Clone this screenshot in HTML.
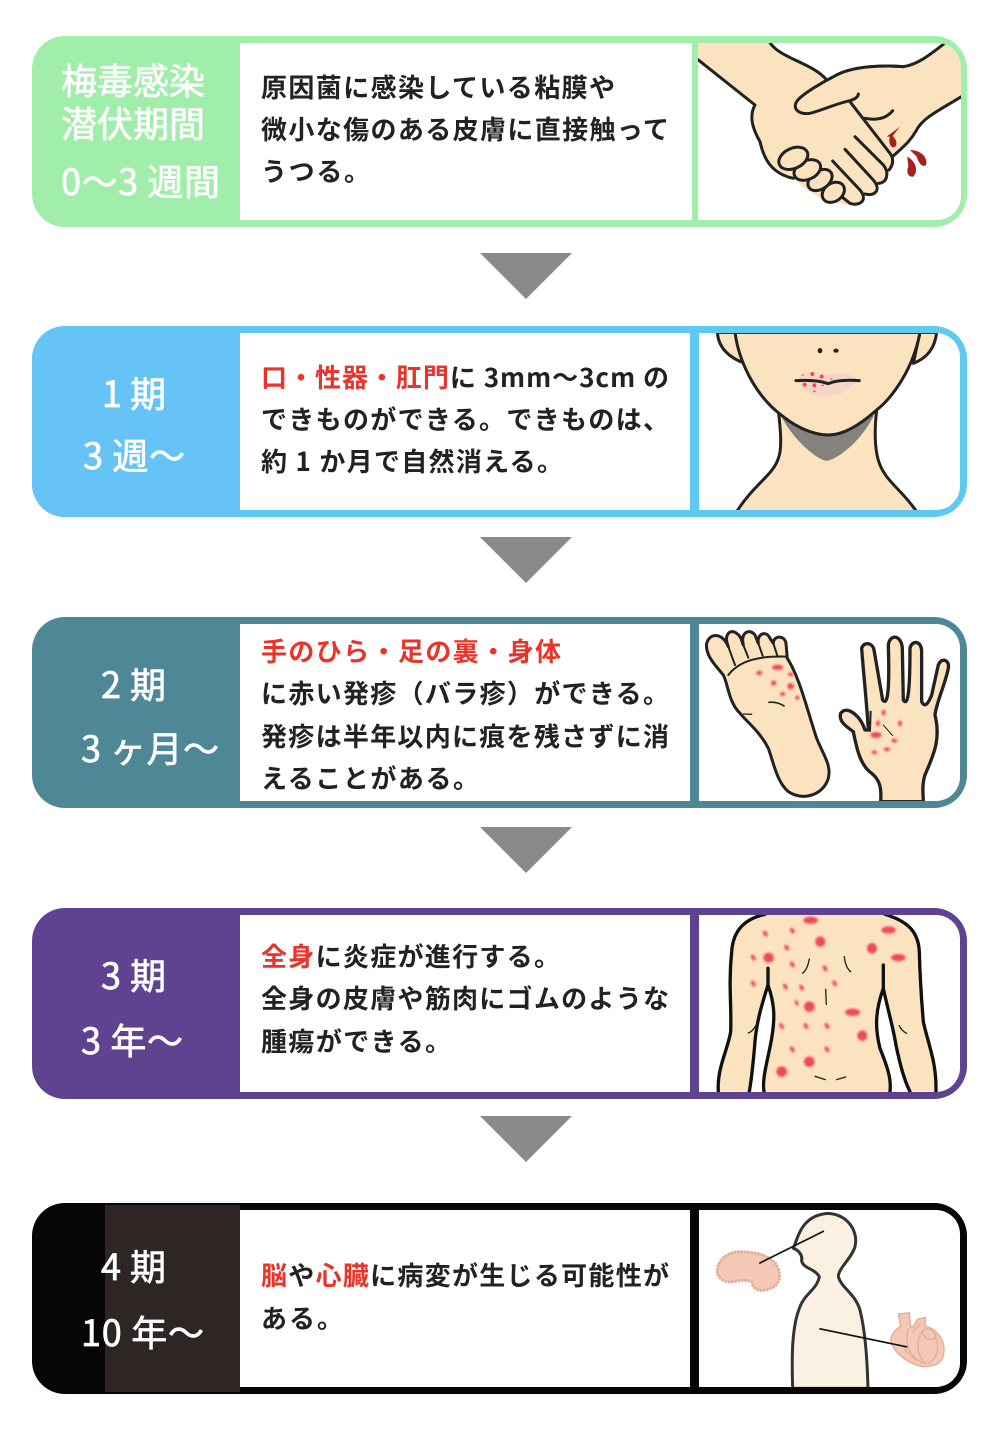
<!DOCTYPE html>
<html lang="ja"><head><meta charset="utf-8">
<style>
html,body{margin:0;padding:0;background:#fff;width:1000px;height:1436px;overflow:hidden}
svg{display:block}
text{font-family:"Noto Sans CJK JP","Liberation Sans",sans-serif}
.b{font-size:26px;font-weight:700;fill:#222}
.r{fill:#e8342a}
.h{font-size:36px;font-weight:400;fill:#fff;stroke:#fff;stroke-width:.7px}
.sk{fill:#fbe3c0;stroke:#222;stroke-width:9;stroke-linejoin:round;stroke-linecap:round}
.l{fill:none;stroke:#222;stroke-width:9;stroke-linecap:round;stroke-linejoin:round}
.nf{fill:#fbe3c0;stroke:none}
</style></head><body>
<svg xmlns="http://www.w3.org/2000/svg" width="1000" height="1436" viewBox="0 0 1000 1436">
<defs>
<filter id="bl" x="-50%" y="-50%" width="200%" height="200%"><feGaussianBlur stdDeviation="3.2"/></filter>
<clipPath id="c1"><path d="M698,43H937a24,24 0 0 1 24,24V196a24,24 0 0 1 -24,24H698Z"/></clipPath>
<clipPath id="c2"><path d="M699,333H936a24,24 0 0 1 24,24V486a24,24 0 0 1 -24,24H699Z"/></clipPath>
<clipPath id="c3"><path d="M699,624H936a24,24 0 0 1 24,24V777a24,24 0 0 1 -24,24H699Z"/></clipPath>
<clipPath id="c4"><path d="M699,915H936a24,24 0 0 1 24,24V1068a24,24 0 0 1 -24,24H699Z"/></clipPath>
<clipPath id="c5"><path d="M699,1210H936a24,24 0 0 1 24,24V1363a24,24 0 0 1 -24,24H699Z"/></clipPath>
</defs>
<rect width="1000" height="1436" fill="#fff"/>

<!-- arrows -->
<g fill="#8a8a8a">
<polygon points="480,253 572,253 526,299"/>
<polygon points="480,537 572,537 526,583"/>
<polygon points="480,827 572,827 526,873"/>
<polygon points="480,1116 572,1116 526,1162"/>
</g>

<!-- row 1 -->
<rect x="32" y="36" width="935" height="191" rx="33" fill="#a0eeaa"/>
<rect x="240" y="43" width="452" height="177" fill="#fff"/>
<path d="M698,43H937a24,24 0 0 1 24,24V196a24,24 0 0 1 -24,24H698Z" fill="#fff"/>
<!-- row 2 -->
<rect x="32" y="326" width="935" height="191" rx="33" fill="#5fc9f0"/>
<path d="M65,326H240V517H65A33,33 0 0 1 32,484V359A33,33 0 0 1 65,326Z" fill="#66c3f6"/>
<rect x="240" y="333" width="450" height="177" fill="#fff"/>
<path d="M699,333H936a24,24 0 0 1 24,24V486a24,24 0 0 1 -24,24H699Z" fill="#fff"/>
<!-- row 3 -->
<rect x="32" y="617" width="935" height="191" rx="33" fill="#4e8796"/>
<rect x="240" y="624" width="450" height="177" fill="#fff"/>
<path d="M699,624H936a24,24 0 0 1 24,24V777a24,24 0 0 1 -24,24H699Z" fill="#fff"/>
<!-- row 4 -->
<rect x="32" y="908" width="935" height="191" rx="33" fill="#5f4391"/>
<rect x="240" y="915" width="450" height="177" fill="#fff"/>
<path d="M699,915H936a24,24 0 0 1 24,24V1068a24,24 0 0 1 -24,24H699Z" fill="#fff"/>
<!-- row 5 -->
<rect x="32" y="1203" width="935" height="191" rx="33" fill="#070505"/>
<rect x="105" y="1205" width="135" height="187" fill="#2e2525"/>
<rect x="240" y="1210" width="450" height="177" fill="#fff"/>
<path d="M699,1210H936a24,24 0 0 1 24,24V1363a24,24 0 0 1 -24,24H699Z" fill="#fff"/>

<!-- heading text -->
<text class="h" x="61" y="94" textLength="144">梅毒感染</text>
<text class="h" x="61" y="137" textLength="144">潜伏期間</text>
<text class="h" x="61" y="195" textLength="159">0～3 週間</text>
<text class="h" x="102" y="407" textLength="64">1 期</text>
<text class="h" x="83" y="469" textLength="102">3 週～</text>
<text class="h" x="101" y="698" textLength="65">2 期</text>
<text class="h" x="81" y="762" textLength="138">3 ヶ月～</text>
<text class="h" x="101" y="989" textLength="65">3 期</text>
<text class="h" x="81" y="1054" textLength="102">3 年～</text>
<text class="h" x="101" y="1280" textLength="65">4 期</text>
<text class="h" x="81" y="1346" textLength="123">10 年～</text>

<!-- body text -->
<text class="b" x="261" y="97" textLength="354">原因菌に感染している粘膜や</text>
<text class="b" x="261" y="139" textLength="408">微小な傷のある皮膚に直接触って</text>
<text class="b" x="261" y="181" textLength="109">うつる。</text>

<text class="b" x="261" y="387" textLength="408"><tspan class="r">口・性器・肛門</tspan>に 3mm～3cm の</text>
<text class="b" x="261" y="429" textLength="408">できものができる。できものは、</text>
<text class="b" x="261" y="471" textLength="302">約 1 か月で自然消える。</text>

<text class="b r" x="261" y="661" textLength="300">手のひら・足の裏・身体</text>
<text class="b" x="261" y="703" textLength="408">に赤い発疹（バラ疹）ができる。</text>
<text class="b" x="261" y="746" textLength="408">発疹は半年以内に痕を残さずに消</text>
<text class="b" x="261" y="788" textLength="218">えることがある。</text>

<text class="b" x="261" y="966" textLength="299"><tspan class="r">全身</tspan>に炎症が進行する。</text>
<text class="b" x="261" y="1008" textLength="408">全身の皮膚や筋肉にゴムのような</text>
<text class="b" x="261" y="1051" textLength="190">腫瘍ができる。</text>

<text class="b" x="261" y="1285" textLength="408"><tspan class="r">脳</tspan>や<tspan class="r">心臓</tspan>に病変が生じる可能性が</text>
<text class="b" x="261" y="1328" textLength="82">ある。</text>

<!-- illustration 1: handshake -->
<g clip-path="url(#c1)"><g transform="translate(690,30) scale(.3333)">
<path class="sk" d="M240,30 C270,85 370,100 410,150 L500,300 L600,420 L25,90 L25,30Z" style="stroke:none"/>
<path class="sk" d="M770,35 C720,75 680,105 640,110 C580,105 490,108 440,135 L320,215 L480,212 L610,378 C640,350 660,335 680,300 C700,260 760,235 830,190 L830,30Z" style="stroke:none"/>
<path class="l" d="M770,35 C720,75 680,105 640,110 C580,105 490,108 440,135"/>
<path class="l" d="M830,190 C760,235 700,260 680,300 C660,335 640,350 610,378"/>
<path class="sk" d="M0,70 L195,225 C175,260 190,300 210,335 C220,380 240,430 310,445 L350,480 L400,510 L470,525 C510,530 525,510 525,495 C555,500 565,480 565,460 C590,460 600,435 595,420 C610,400 610,385 600,370 L480,212 L380,240 L320,215 L410,150 C370,100 270,85 240,30 L0,30Z" style="stroke:none"/>
<path class="l" d="M0,70 L195,225 C175,260 190,300 210,335 C220,380 240,430 310,445"/>
<path class="l" d="M240,38 C270,85 370,100 410,150"/>
<path class="sk" d="M410,148 C440,130 490,108 540,108 L580,108 L600,240 C580,270 540,270 520,265 L480,212 C440,220 400,240 360,250 C325,255 305,235 322,212Z" style="stroke:none"/>
<path class="l" d="M640,110 C580,105 490,108 440,135 C400,155 340,190 322,212 C305,235 325,255 360,250 C400,240 440,220 480,212 C495,208 505,200 505,192"/>
<path class="l" d="M480,215 L600,370 C612,385 610,405 597,420"/>
<path class="l" d="M525,265 C560,272 590,265 608,242"/>
<path class="l" d="M495,320 L580,405 C600,430 590,460 565,460"/>
<path class="l" d="M465,358 L550,450 C575,480 555,500 525,492"/>
<path class="l" d="M428,393 L510,480 C535,510 510,530 480,520 L455,500"/>
<ellipse class="sk" cx="430" cy="487" rx="36" ry="27" transform="rotate(-35 430 487)"/>
<ellipse class="sk" cx="390" cy="450" rx="40" ry="27" transform="rotate(-35 390 450)"/>
<ellipse class="sk" cx="352" cy="420" rx="42" ry="28" transform="rotate(-25 352 420)"/>
<ellipse class="sk" cx="310" cy="385" rx="46" ry="30" transform="rotate(-25 310 385)"/>
<path d="M590,320 L630,290 L608,318 C620,330 625,345 612,352 C600,352 595,335 600,320Z" fill="#a8201c"/>
<path d="M652,380 C680,395 685,425 670,440 C650,442 650,420 655,410Z" fill="#a8201c"/>
<path d="M660,360 C695,360 715,385 708,405 C695,415 685,395 680,380Z" fill="#a8201c"/>
</g></g>

<!-- illustration 2: face -->
<g clip-path="url(#c2)"><g transform="translate(690,325) scale(.3333)">
<path class="sk" d="M82,22 C85,70 120,100 165,115 L135,22Z"/>
<path class="sk" d="M740,22 C735,70 710,100 670,115 L690,22Z"/>
<path class="sk" d="M265,255 C270,300 278,370 265,400 C250,450 190,480 140,560 L680,560 C640,500 590,470 570,420 C550,370 555,300 560,255Z"/>
<path d="M272,270 C300,330 370,400 410,408 C450,400 520,340 552,270 L415,330Z" fill="#85827d"/>
<path class="sk" d="M135,22 C145,100 190,210 280,275 C330,315 380,330 415,330 C460,330 510,300 560,255 C610,215 670,130 690,22Z"/>
<path d="M320,165 C340,140 370,135 415,150 C440,140 480,140 505,165 C470,210 420,220 380,212 C350,205 330,190 320,165Z" fill="#f6d5c8"/>
<path class="l" d="M318,167 C350,165 385,165 415,176 C440,165 480,165 508,167" style="stroke-width:9"/>
<ellipse cx="390" cy="77" rx="7" ry="8" fill="#222"/>
<ellipse cx="438" cy="77" rx="8" ry="6" fill="#222"/>
<g fill="#ef4a55">
<circle cx="367" cy="147" r="6"/><circle cx="395" cy="155" r="6"/><circle cx="344" cy="179" r="6"/><circle cx="373" cy="181" r="6"/>
<ellipse cx="338" cy="150" rx="4" ry="2"/><ellipse cx="424" cy="162" rx="4" ry="2"/><ellipse cx="398" cy="181" rx="4" ry="2"/><ellipse cx="373" cy="199" rx="4" ry="2"/>
</g>
</g></g>

<!-- illustration 3: foot + hand -->
<g clip-path="url(#c3)"><g transform="translate(690,615) scale(.3333)">
<path class="sk" d="M292,130 C330,190 350,280 380,370 C400,420 425,450 415,490 C400,540 340,560 295,530 C260,500 250,440 235,400 C210,350 170,320 150,295 C115,260 115,210 100,180 C75,150 45,120 50,85 C60,50 100,55 115,95 C100,60 120,40 140,55 C155,65 155,80 160,90 C150,50 180,40 195,60 L205,85 C200,55 230,45 240,70 L250,85 C250,60 285,60 288,85Z"/>
<path class="l" d="M115,95 L135,150 M160,90 L175,128 M205,85 L218,122 M250,85 L262,122 M288,85 L292,130" style="stroke-width:6"/>
<path class="l" d="M115,180 C150,135 210,122 292,125" style="stroke-width:6"/>
<path class="l" d="M237,262 C255,260 270,265 282,273" style="stroke-width:5"/>
<path class="l" d="M160,297 L185,298" style="stroke-width:4"/>
<path class="sk" d="M572,560 C575,520 570,495 545,475 C510,450 500,400 490,350 C470,335 445,320 452,295 C470,270 510,300 525,345 L535,345 C530,260 520,170 515,100 C520,80 550,80 553,110 L578,255 C590,270 600,250 595,90 C600,55 635,60 637,100 L640,255 C650,270 660,260 660,100 C665,75 695,75 695,110 L695,260 C705,280 715,265 725,240 L745,150 C755,125 780,135 775,160 C765,210 740,260 735,300 C755,380 725,430 705,480 C695,510 700,540 700,560Z" style="stroke-width:10"/>
<path class="l" d="M540,348 L542,290" style="stroke-width:6"/>
<path class="l" d="M580,330 L608,362" style="stroke-width:3"/>
<g fill="#ef4a5a" filter="url(#bl)">
<ellipse cx="263" cy="157" rx="17" ry="8"/><ellipse cx="208" cy="174" rx="9" ry="7"/><ellipse cx="302" cy="178" rx="8" ry="6"/><ellipse cx="251" cy="204" rx="8" ry="8"/><ellipse cx="302" cy="214" rx="10" ry="10"/><ellipse cx="278" cy="237" rx="8" ry="6"/><ellipse cx="322" cy="248" rx="6" ry="7"/>
<ellipse cx="581" cy="293" rx="6" ry="9"/><ellipse cx="564" cy="325" rx="6" ry="9"/><ellipse cx="630" cy="325" rx="6" ry="9"/><ellipse cx="558" cy="360" rx="17" ry="9"/><ellipse cx="613" cy="377" rx="9" ry="6"/><ellipse cx="591" cy="403" rx="9" ry="6"/><ellipse cx="553" cy="412" rx="8" ry="6"/>
</g>
</g></g>

<!-- illustration 4: torso -->
<g clip-path="url(#c4)"><g transform="translate(690,905) scale(.3333)">
<path class="nf" d="M225,25 L585,25 C640,45 685,70 688,140 C690,220 695,290 700,350 C715,420 740,470 738,560 L660,560 C640,500 615,420 610,370 C595,320 585,280 580,250 C560,310 555,370 570,430 C590,480 605,520 600,560 L222,560 C215,520 235,460 245,400 C260,330 250,290 235,240 C215,300 200,350 195,410 C190,470 185,520 178,560 L85,560 C80,490 115,430 122,380 C125,300 115,240 125,140 C130,70 170,40 225,28Z"/>
<path class="l" style="stroke-width:10;stroke:#111" d="M225,28 C170,40 130,70 125,140 C115,240 125,300 122,380 C115,430 80,490 85,560"/>
<path class="l" style="stroke-width:10;stroke:#111" d="M234,190 L234,240 C215,300 200,350 195,410 C190,470 185,520 178,560"/>
<path class="l" style="stroke-width:10;stroke:#111" d="M234,240 C255,300 255,340 245,400 C235,460 215,520 222,560"/>
<path class="l" style="stroke-width:10;stroke:#111" d="M585,28 C640,45 685,70 688,140 C690,220 695,290 700,350 C715,420 740,470 738,560"/>
<path class="l" style="stroke-width:10;stroke:#111" d="M580,180 L580,250 C595,320 610,370 618,420 C630,480 645,530 660,560"/>
<path class="l" style="stroke-width:10;stroke:#111" d="M580,250 C555,320 555,370 570,430 C590,480 605,520 600,560"/>
<path class="l" d="M358,162 C355,180 350,195 338,205 M463,155 C465,175 470,190 482,200 M407,253 L409,298 M375,514 L406,524 M467,516 L440,524 M197,362 C192,372 185,380 175,384 M628,362 C632,372 640,380 650,385" style="stroke-width:4"/>
<g fill="#ef4a5a" filter="url(#bl)">
<ellipse cx="362" cy="46" rx="22" ry="11"/><ellipse cx="226" cy="86" rx="6" ry="10" transform="rotate(-30 226 86)"/><ellipse cx="307" cy="77" rx="6" ry="10" transform="rotate(-30 307 77)"/><ellipse cx="391" cy="110" rx="15" ry="16"/><ellipse cx="596" cy="75" rx="22" ry="11"/><ellipse cx="290" cy="128" rx="6" ry="10" transform="rotate(-30 290 128)"/><ellipse cx="546" cy="130" rx="15" ry="16"/><ellipse cx="625" cy="158" rx="22" ry="11"/><ellipse cx="190" cy="158" rx="6" ry="10" transform="rotate(-30 190 158)"/><ellipse cx="236" cy="158" rx="16" ry="15"/><ellipse cx="307" cy="178" rx="6" ry="10" transform="rotate(-30 307 178)"/><ellipse cx="405" cy="190" rx="6" ry="10" transform="rotate(-30 405 190)"/><ellipse cx="190" cy="236" rx="6" ry="10" transform="rotate(-30 190 236)"/><ellipse cx="286" cy="245" rx="6" ry="10" transform="rotate(-30 286 245)"/><ellipse cx="335" cy="248" rx="6" ry="10" transform="rotate(-30 335 248)"/><ellipse cx="434" cy="235" rx="6" ry="10" transform="rotate(-30 434 235)"/><ellipse cx="320" cy="294" rx="5" ry="9" transform="rotate(-20 320 294)"/><ellipse cx="358" cy="305" rx="16" ry="16"/><ellipse cx="488" cy="322" rx="23" ry="11"/><ellipse cx="275" cy="363" rx="6" ry="10" transform="rotate(-30 275 363)"/><ellipse cx="348" cy="363" rx="6" ry="10" transform="rotate(-30 348 363)"/><ellipse cx="411" cy="363" rx="6" ry="10" transform="rotate(-30 411 363)"/><ellipse cx="517" cy="392" rx="15" ry="16"/><ellipse cx="307" cy="433" rx="6" ry="10" transform="rotate(-30 307 433)"/><ellipse cx="411" cy="433" rx="6" ry="10" transform="rotate(-30 411 433)"/><ellipse cx="358" cy="470" rx="16" ry="16"/><ellipse cx="275" cy="500" rx="16" ry="16"/>
</g>
</g></g>

<!-- illustration 5: body, brain, heart -->
<g clip-path="url(#c5)"><g transform="translate(690,1200) scale(.3333)">
<path d="M308,565 C305,470 305,380 330,320 C345,280 380,270 388,230 C375,205 335,205 335,180 C338,165 325,150 310,145 C325,110 335,45 415,40 C480,45 505,100 495,140 C485,175 445,205 445,230 C455,265 495,280 510,330 C525,390 532,480 534,565Z" fill="#fbf1e3" stroke="#333" stroke-width="9" stroke-linejoin="round"/>
<path d="M82,208 C85,175 120,152 155,155 C200,155 250,170 262,200 C275,225 270,258 240,266 C215,275 190,275 185,245 C150,235 135,250 110,245 C90,240 78,225 82,208Z" fill="#f5c7b5" stroke="#e3ae98" stroke-width="9" stroke-linecap="round" stroke-dasharray="0 10"/>
<path d="M208,190 L402,93" stroke="#111" stroke-width="5" fill="none"/>
<path d="M625,342 L658,338 L662,382 L672,378 L682,358 L707,352 L705,378 C740,385 765,420 762,455 C760,490 735,500 700,500 C660,495 610,460 602,420 C605,395 625,385 632,378Z" fill="#f5c7b5" stroke="#dfae95" stroke-width="4" stroke-linejoin="round"/>
<path d="M655,385 C645,420 650,450 680,478 M705,385 C680,410 675,450 700,485 M735,410 C750,440 745,470 715,492 M668,395 L692,372 M640,440 C655,465 680,485 710,490 M695,395 C710,380 730,385 738,410 C725,425 705,420 695,395Z" fill="none" stroke="#dfae95" stroke-width="4"/>
<path d="M388,386 L652,441" stroke="#111" stroke-width="5" fill="none"/>
</g></g>
</svg>
</body></html>
